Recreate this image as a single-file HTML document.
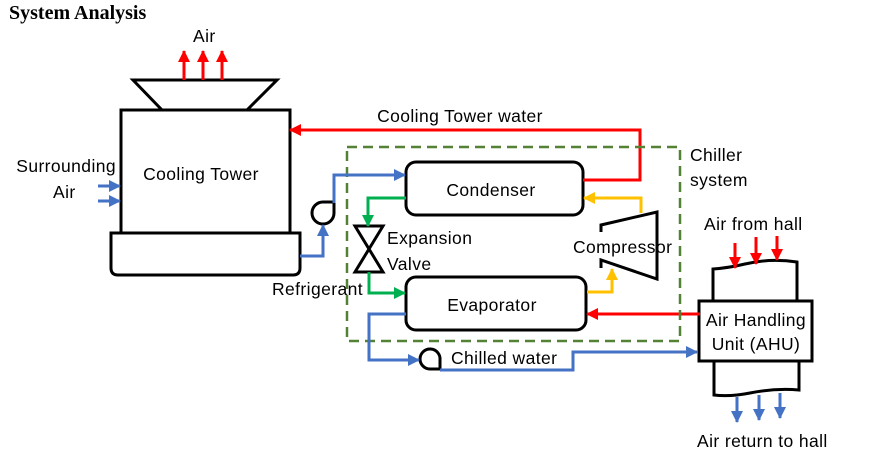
<!DOCTYPE html>
<html><head><style>
body{margin:0;width:889px;height:471px;background:#fff;overflow:hidden}
svg text{font-family:"Liberation Sans",sans-serif;font-size:17.5px;letter-spacing:0.4px;fill:#000}
</style></head><body>
<svg width="889" height="471" xmlns="http://www.w3.org/2000/svg">
<defs>
<marker id="r" markerWidth="12" markerHeight="12" refX="11" refY="6" orient="auto" markerUnits="userSpaceOnUse"><path d="M0,0 L12,6 L0,12Z" fill="#f00"/></marker>
<marker id="b" markerWidth="12" markerHeight="12" refX="11" refY="6" orient="auto" markerUnits="userSpaceOnUse"><path d="M0,0 L12,6 L0,12Z" fill="#4472c4"/></marker>
<marker id="g" markerWidth="12" markerHeight="12" refX="11" refY="6" orient="auto" markerUnits="userSpaceOnUse"><path d="M0,0 L12,6 L0,12Z" fill="#00b050"/></marker>
<marker id="y" markerWidth="12" markerHeight="12" refX="11" refY="6" orient="auto" markerUnits="userSpaceOnUse"><path d="M0,0 L12,6 L0,12Z" fill="#ffc000"/></marker>
</defs>
<text x="9" y="19" style="font-family:'Liberation Serif',serif;font-weight:bold;font-size:20px;letter-spacing:0">System Analysis</text>
<text x="193" y="42">Air</text>
<g stroke="#000" stroke-width="3" fill="#fff">
<polygon points="133,80 277,80 247,110 162,110"/>
<rect x="121" y="110" width="169" height="123"/>
<path d="M111,233 H300 V268 Q300,275 293,275 H118 Q111,275 111,268Z"/>
<rect x="406" y="162" width="177" height="53" rx="10"/>
<rect x="406" y="277" width="180" height="53" rx="10"/>
<path d="M713,301 V269 Q728,268 745,264 Q770,258 797,262 V301" />
<path d="M714,361 V395 Q730,397 750,393 Q775,388 799,390 V361"/>
<rect x="699" y="301" width="113" height="60"/>
<polygon points="355,226 383,226 355,272 383,272" fill="none"/>
<polyline points="601,232 601,225 657,212 657,279 601,260 601,268" fill="none"/>
<path d="M334,202 L334,213 A11,11 0 1,1 323,202 Z"/>
<path d="M440,369 L430,369 A10,10 0 1,1 440,360 Z"/>
</g>
<g stroke="#f00" stroke-width="3" fill="none">
<line x1="184" y1="80" x2="184" y2="51" marker-end="url(#r)"/>
<line x1="203" y1="80" x2="203" y2="51" marker-end="url(#r)"/>
<line x1="222" y1="80" x2="222" y2="51" marker-end="url(#r)"/>
<polyline points="583,180 640,180 640,130 290,130" marker-end="url(#r)"/>
<line x1="700" y1="314" x2="587" y2="314" marker-end="url(#r)"/>
<line x1="735" y1="243" x2="735" y2="268" marker-end="url(#r)"/>
<line x1="756" y1="237" x2="756" y2="264" marker-end="url(#r)"/>
<line x1="777" y1="236" x2="777" y2="260" marker-end="url(#r)"/>
</g>
<path d="M347,147 H680 V341 H347Z" fill="none" stroke="#548235" stroke-width="2.5" stroke-dasharray="10,6"/>
<g stroke="#4472c4" stroke-width="3" fill="none">
<line x1="98" y1="186" x2="120" y2="186" marker-end="url(#b)"/>
<line x1="98" y1="201" x2="120" y2="201" marker-end="url(#b)"/>
<polyline points="300,256 323,256 323,225" marker-end="url(#b)"/>
<polyline points="334,203 334,175 405,175" marker-end="url(#b)"/>
<polyline points="406,314 369,314 369,360 419,360" marker-end="url(#b)"/>
<polyline points="440,370 573,370 573,352 697,352" marker-end="url(#b)"/>
<line x1="737" y1="397" x2="737" y2="422" marker-end="url(#b)"/>
<line x1="759" y1="395" x2="759" y2="420" marker-end="url(#b)"/>
<line x1="780" y1="393" x2="780" y2="418" marker-end="url(#b)"/>
</g>
<g stroke="#00b050" stroke-width="3" fill="none">
<polyline points="406,198 368,198 368,226" marker-end="url(#g)"/>
<polyline points="369,272 369,293 405,293" marker-end="url(#g)"/>
</g>
<g stroke="#ffc000" stroke-width="3" fill="none">
<polyline points="641,213 641,198 584,198" marker-end="url(#y)"/>
<polyline points="587,292 612,292 612,269" marker-end="url(#y)"/>
</g>
<text x="460" y="122" text-anchor="middle">Cooling Tower water</text>
<text x="690" y="161">Chiller</text>
<text x="690" y="186">system</text>
<text x="116" y="172" text-anchor="end">Surrounding</text>
<text x="53" y="198">Air</text>
<text x="201" y="180" text-anchor="middle">Cooling Tower</text>
<text x="272" y="295">Refrigerant</text>
<text x="387" y="244">Expansion</text>
<text x="387" y="270">Valve</text>
<text x="573" y="253">Compressor</text>
<text x="491" y="196" text-anchor="middle">Condenser</text>
<text x="492" y="311" text-anchor="middle">Evaporator</text>
<text x="451" y="364">Chilled water</text>
<text x="704" y="230">Air from hall</text>
<text x="756" y="326" text-anchor="middle">Air Handling</text>
<text x="756" y="350" text-anchor="middle">Unit (AHU)</text>
<text x="697" y="447">Air return to hall</text>
</svg>
</body></html>
